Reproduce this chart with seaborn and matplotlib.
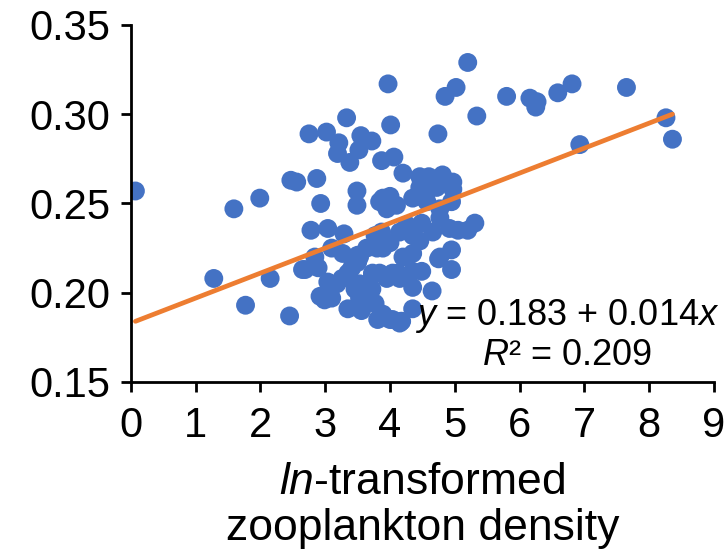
import numpy as np
import pandas as pd
import matplotlib
matplotlib.use("Agg")
import matplotlib.pyplot as plt
import seaborn as sns

# ---- data ----
density_ln = [
    0.07, 1.28, 1.77, 1.59, 1.99, 2.15, 2.45, 2.47, 2.56, 2.65, 2.75, 2.87, 3.02, 2.93,
    3.33, 4.01, 3.97, 3.21, 3.55, 3.72, 3.52, 3.19, 3.38, 3.87, 4.06, 4.20, 3.49, 3.49,
    3.89, 4.00, 4.10, 4.35, 3.84, 3.95,
    4.46, 4.57, 4.77, 4.72, 4.97,
    4.46, 4.60, 4.81, 4.97, 4.72, 4.46, 4.55, 4.95,
    5.20, 5.02, 4.85, 5.34, 4.74, 5.80, 6.16, 6.27, 6.25, 6.59, 6.81, 7.65, 8.26, 8.36, 6.93,
    5.31, 5.20, 5.05, 4.92, 4.66, 4.95, 4.75, 4.95, 4.65, 4.35, 4.35, 4.49, 4.35, 4.15,
    4.26, 4.15, 4.35, 4.46, 4.00, 4.77, 3.87, 4.49, 4.77,
    3.89, 4.20, 3.73, 3.84, 4.04, 4.15, 3.69, 3.77, 3.89, 4.04, 4.18, 3.56, 4.35,
    2.78, 3.04, 3.29, 3.10, 3.27, 2.84, 3.50, 3.64, 3.80, 3.77, 2.89, 2.69, 3.04, 3.26,
    3.35, 2.92, 3.10, 3.46, 3.35, 3.64, 3.81, 3.73, 3.72, 3.50,
    3.18, 3.41, 2.99, 3.53, 3.53, 3.53,
    3.95, 4.12, 4.00, 4.17,
]
response = [
    0.257, 0.208, 0.193, 0.247, 0.253, 0.208, 0.187, 0.263, 0.262, 0.213, 0.289, 0.264, 0.290, 0.250,
    0.298, 0.294, 0.317, 0.284, 0.288, 0.285, 0.280, 0.278, 0.273, 0.274, 0.276, 0.267, 0.257, 0.249,
    0.253, 0.254, 0.249, 0.253, 0.251, 0.247,
    0.254, 0.251, 0.247, 0.259, 0.258,
    0.265, 0.265, 0.266, 0.262, 0.261, 0.259, 0.253, 0.251,
    0.329, 0.315, 0.310, 0.299, 0.289, 0.310, 0.309, 0.307, 0.304, 0.312, 0.317, 0.315, 0.298, 0.286, 0.283,
    0.239, 0.235, 0.235, 0.236, 0.234, 0.224, 0.219, 0.213, 0.201, 0.222, 0.212, 0.212, 0.203, 0.183,
    0.238, 0.234, 0.232, 0.229, 0.228, 0.220, 0.234, 0.239, 0.242,
    0.225, 0.220, 0.211, 0.211, 0.211, 0.208, 0.201, 0.194, 0.188, 0.185, 0.184, 0.190, 0.191,
    0.235, 0.236, 0.233, 0.225, 0.222, 0.220, 0.221, 0.225, 0.225, 0.232, 0.214, 0.213, 0.206, 0.208,
    0.211, 0.198, 0.197, 0.202, 0.191, 0.194, 0.185, 0.210, 0.202, 0.217,
    0.205, 0.214, 0.196, 0.205, 0.197, 0.220,
    0.208, 0.211, 0.185, 0.184,
]
fit_intercept = [0.183]
fit_slope = [0.014]
fit_r2 = [0.209]
x_ticks = [0, 1, 2, 3, 4, 5, 6, 7, 8, 9]
y_ticks = [0.15, 0.20, 0.25, 0.30, 0.35]

df = pd.DataFrame({"x": density_ln, "y": response})

# ---- style ----
sns.set_style("ticks")
plt.rcParams["font.family"] = ["Liberation Sans", "DejaVu Sans"]
plt.rcParams["mathtext.fontset"] = "custom"
plt.rcParams["mathtext.rm"] = "Liberation Sans"
plt.rcParams["mathtext.it"] = "Liberation Sans:italic"
plt.rcParams["text.color"] = "black"
plt.rcParams["axes.labelcolor"] = "black"
plt.rcParams["xtick.color"] = "black"
plt.rcParams["ytick.color"] = "black"

fig = plt.figure(figsize=(7.27, 5.49), dpi=100)
ax = fig.add_axes([0.180, 0.3042, 0.802, 0.6503])

sns.scatterplot(data=df, x="x", y="y", ax=ax, color="#4472C4", s=185,
                edgecolor="none", linewidth=0, zorder=2)

xmin, xmax = min(density_ln), max(density_ln)
line_df = pd.DataFrame({"x": [xmin, xmax],
                        "y": [fit_intercept[0] + fit_slope[0] * xmin,
                              fit_intercept[0] + fit_slope[0] * xmax]})
sns.lineplot(data=line_df, x="x", y="y", ax=ax, color="#ED7D31", linewidth=3.4, zorder=3)

ax.set_xlim(x_ticks[0], x_ticks[-1])
ax.set_ylim(y_ticks[0], y_ticks[-1])
ax.set_xticks(x_ticks)
ax.set_yticks(y_ticks)
ax.set_xticklabels([str(t) for t in x_ticks])
ax.set_yticklabels([f"{t:.2f}" for t in y_ticks])
ax.tick_params(axis="both", labelsize=30, length=7, width=2, color="black",
               labelcolor="black", direction="out")
ax.tick_params(axis="x", pad=10)
ax.tick_params(axis="y", pad=8)
sns.despine(ax=ax)
for side in ("left", "bottom"):
    ax.spines[side].set_linewidth(2)
    ax.spines[side].set_color("black")

ax.set_ylabel("")
ax.set_xlabel("$\\mathit{ln}$-transformed\nzooplankton density", fontsize=32,
              labelpad=12, linespacing=1.15, color="black")

ax.text(6.73, 0.187, "$\\mathit{y}$ = %.3f + %.3f$\\mathit{x}$" % (fit_intercept[0], fit_slope[0]),
        fontsize=26, ha="center", va="center")
ax.text(6.73, 0.165, "$\\mathit{R}$² = %.3f" % fit_r2[0],
        fontsize=26, ha="center", va="center")

fig.savefig("out.png", dpi=100)
